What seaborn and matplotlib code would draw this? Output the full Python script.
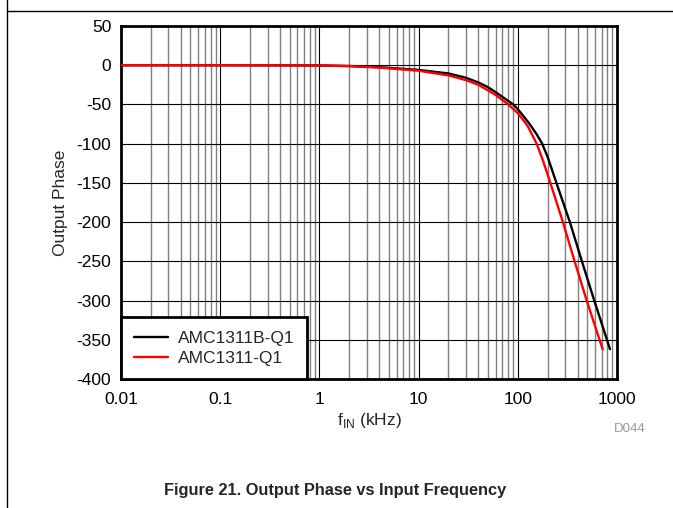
import seaborn as sns
import matplotlib.pyplot as plt
import matplotlib.ticker as mticker
from matplotlib.lines import Line2D
import pandas as pd

# 读取的曲线数据 (kHz, 度)
freq_b = [0.01, 0.1, 1, 2, 4, 10, 20, 30, 40, 50, 60, 80, 90, 100, 130, 155, 176, 200, 245, 335, 443, 590, 850]
phase_b = [0, 0, -0.3, -1, -2.5, -6, -10.5, -16, -22, -28, -34.5, -45.5, -50, -56, -74, -88, -100, -117, -150, -200, -250, -300, -362]
freq_r = [0.01, 0.1, 1, 2, 4, 10, 20, 30, 40, 50, 60, 80, 100, 125, 155, 180, 213, 285, 374, 495, 717]
phase_r = [0, 0, -0.3, -1.2, -3, -7, -13, -19, -25, -32, -38, -50, -61, -77, -100, -122, -150, -200, -250, -300, -362]
series = ['AMC1311B-Q1', 'AMC1311-Q1']
colors = ['black', 'red']
xticks = [0.01, 0.1, 1, 10, 100, 1000]
xtick_labels = ['0.01', '0.1', '1', '10', '100', '1000']
yticks = list(range(-400, 51, 50))

df = pd.concat([
    pd.DataFrame({'f': freq_b, 'phase': phase_b, 'dev': series[0]}),
    pd.DataFrame({'f': freq_r, 'phase': phase_r, 'dev': series[1]}),
])

sns.set_style('white')
plt.rcParams['font.family'] = ['Liberation Sans', 'DejaVu Sans']
plt.rcParams['mathtext.fontset'] = 'custom'
plt.rcParams['mathtext.rm'] = 'Liberation Sans'
plt.rcParams['axes.unicode_minus'] = False

fs = 12.5
fig = plt.figure(figsize=(6.73, 5.08), dpi=100)
ax = fig.add_axes([121 / 673, 1 - 379 / 508, (617 - 121) / 673, (379 - 26) / 508])

sns.lineplot(data=df, x='f', y='phase', hue='dev', palette=dict(zip(series, colors)),
             linewidth=1.7, ax=ax, sort=False, zorder=3)

ax.set_xscale('log')
ax.set_xlim(0.01, 1000)
ax.set_ylim(-400, 50)
ax.set_xticks(xticks)
ax.set_xticklabels(xtick_labels)
ax.xaxis.set_minor_locator(mticker.LogLocator(base=10, subs=range(2, 10)))
ax.xaxis.set_minor_formatter(mticker.NullFormatter())
ax.set_yticks(yticks)
ax.tick_params(axis='both', which='both', length=0, labelsize=fs, colors='black')
ax.tick_params(axis='x', pad=9)
ax.tick_params(axis='y', pad=7)

# 网格
ax.grid(True, which='major', color='black', linewidth=0.8)
ax.grid(True, which='minor', axis='x', color='#808080', linewidth=1.0)
for s in ax.spines.values():
    s.set_color('black')
    s.set_linewidth(2)

ax.set_xlabel('f$_{\\mathrm{IN}}$ (kHz)', fontsize=fs, labelpad=3)
ax.set_ylabel('Output Phase', fontsize=fs, labelpad=6)

leg = ax.legend(loc='lower left', borderaxespad=0, fancybox=False, framealpha=1,
                edgecolor='black', fontsize=fs, handlelength=1.95, handletextpad=0.57,
                labelspacing=0.3, borderpad=0.75)
leg.get_frame().set_linewidth(2)
for h in leg.get_lines():
    h.set_linewidth(1.7)

fig.text(646 / 673, 1 - 429 / 508, 'D044', color='#999999', fontsize=9.5, ha='right', va='center')
fig.text(335 / 673, 1 - 490 / 508, 'Figure 21. Output Phase vs Input Frequency',
         fontsize=11.8, fontweight='bold', ha='center', va='center')

# 外框线
fig.add_artist(Line2D([7 / 673, 7 / 673], [0, 1], color='black', linewidth=1))
fig.add_artist(Line2D([7 / 673, 1], [1 - 11 / 508, 1 - 11 / 508], color='black', linewidth=1))

fig.savefig('out.png', dpi=100)
